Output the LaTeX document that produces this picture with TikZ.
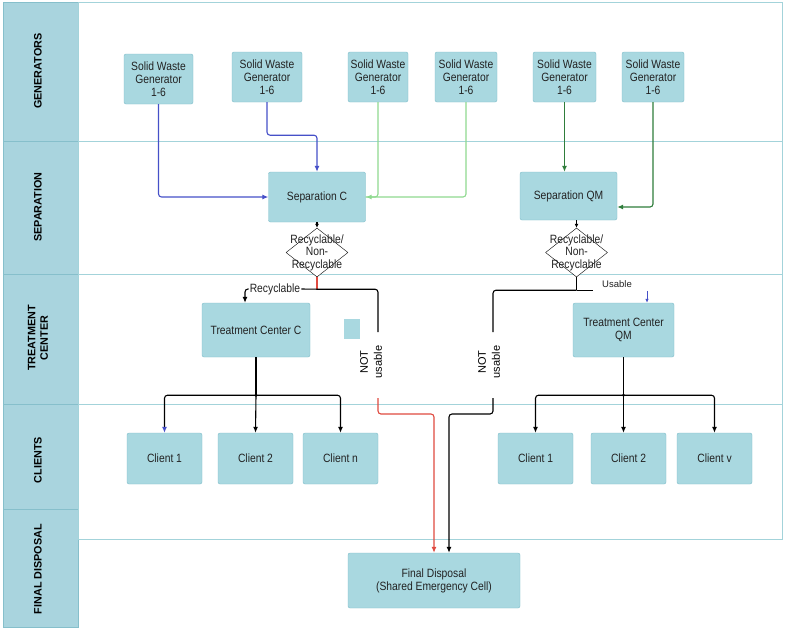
\documentclass[tikz,border=0pt]{standalone}
\usepackage{fontspec}
\setmainfont{Liberation Sans}
\newfontfamily\narrowfont{Liberation Sans}[FakeStretch=0.86]
\usetikzlibrary{arrows.meta,shapes.geometric,calc}

\definecolor{boxfill}{HTML}{A9D8E0}
\definecolor{boxline}{HTML}{7FBECA}
\definecolor{lanefill}{HTML}{A9D4DE}
\definecolor{laneline}{HTML}{A3D3DA}
\definecolor{lanedark}{HTML}{86BFCB}
\definecolor{textgray}{HTML}{222222}
\definecolor{genblue}{HTML}{4650C8}
\definecolor{genlight}{HTML}{90DA90}
\definecolor{gendark}{HTML}{2F7D3B}
\definecolor{redline}{HTML}{E04A40}

\tikzset{
	box/.style={draw=boxline, fill=boxfill, rounded corners=2pt, align=center,
		font=\narrowfont\fontsize{12}{13}\selectfont, text=textgray, inner sep=0.5pt},
	lane/.style={rotate=90, align=center, font=\bfseries\fontsize{10.8}{12.5}\selectfont},
	decision/.style={diamond, draw, fill=white, inner sep=0pt, minimum width=62, minimum height=49},
	link/.style={line width=1.1pt, rounded corners=3pt},
	tip/.style={-{Latex[length=6pt,width=5pt]}},
}

\begin{document}
\begin{tikzpicture}[x=1pt,y=-1pt]
	\useasboundingbox (0,0) rectangle (791,630);
	\fill[white] (0,0) rectangle (791,630);
	% lanes
	\draw[lanedark, fill=lanefill] (3,2) rectangle (78,627);
	\foreach \y in {141,274,404,509}
		\draw[lanedark] (3,\y) -- (78,\y);
	\draw[laneline] (78,2) rectangle (782,539);
	\foreach \y in {141,274,404}
		\draw[laneline] (78,\y) -- (782,\y);
	
	\node[lane] (lgen) at (38,71) {GENERATORS};
	\node[lane] (lsep) at (38,207) {SEPARATION};
	\node[lane] (ltrt) at (38,338) {TREATMENT\\CENTER};
	\node[lane] (lcli) at (38,460) {CLIENTS};
	\node[lane] (lfin) at (38,569) {FINAL DISPOSAL};
	
	% generators
	\node[box, minimum width=69, minimum height=50] (gen1) at (158.5,79) {Solid Waste\\Generator\\1-6};
	\node[box, minimum width=70, minimum height=50] (gen2) at (267,77) {Solid Waste\\Generator\\1-6};
	\node[box, minimum width=60, minimum height=50] (gen3) at (378,77) {Solid Waste\\Generator\\1-6};
	\node[box, minimum width=62, minimum height=50] (gen4) at (466,77) {Solid Waste\\Generator\\1-6};
	\node[box, minimum width=63, minimum height=50] (gen5) at (564.5,77) {Solid Waste\\Generator\\1-6};
	\node[box, minimum width=62, minimum height=50] (gen6) at (653,77) {Solid Waste\\Generator\\1-6};
	
	% separation
	\node[box, minimum width=97, minimum height=50] (sepc) at (317,197) {Separation C};
	\node[box, minimum width=97, minimum height=48] (sepq) at (568.5,196) {Separation QM};
	\node[decision] (decc) at (317,252.5) {};
	\node[decision] (decq) at (576.5,252.5) {};
	\node[align=center, font=\narrowfont\fontsize{12}{12.5}\selectfont, text=textgray] (tdc) at (decc) {Recyclable/\\Non-\\Recyclable};
	\node[align=center, font=\narrowfont\fontsize{12}{12.5}\selectfont, text=textgray] (tdq) at (decq) {Recyclable/\\Non-\\Recyclable};
	
	% treatment
	\node[box, minimum width=108, minimum height=54] (tc) at (256,330) {Treatment Center C};
	\node[box, minimum width=101, minimum height=54] (tq) at (623.5,330) {Treatment Center\\QM};
	\fill[boxfill] (344,319) rectangle (360,339);
	
	% clients
	\node[box, minimum width=75, minimum height=51] (c1) at (164.5,458.5) {Client 1};
	\node[box, minimum width=75, minimum height=51] (c2) at (255.5,458.5) {Client 2};
	\node[box, minimum width=75, minimum height=51] (cn) at (340.5,458.5) {Client n};
	\node[box, minimum width=75, minimum height=51] (q1) at (535.5,458.5) {Client 1};
	\node[box, minimum width=75, minimum height=51] (q2) at (628.5,458.5) {Client 2};
	\node[box, minimum width=75, minimum height=51] (qv) at (714.5,458.5) {Client v};
	
	% final disposal
	\node[box, minimum width=172, minimum height=55] (fd) at (434,580.5) {Final Disposal\\(Shared Emergency Cell)};
	
	% generators to separation
	\draw[link, tip, genblue] (gen1.south) |- (sepc.west);
	\draw[link, tip, genblue] (gen2.south) -- ++(0,33) -| (sepc.north);
	\draw[link, tip, genlight] (gen3.south) |- (sepc.east);
	\draw[link, genlight] (gen4.south) |- (sepc.east);
	\draw[link, tip, gendark] (gen5.south) -- (gen5.south |- sepq.north);
	\draw[link, tip, gendark] (gen6.south) |- ([yshift=-11pt]sepq.east);
	
	\draw[line width=1.1pt, -{Latex[length=4pt,width=4pt]}] (decc.north |- sepc.south) -- (decc.north);
	\draw[line width=1.1pt, -{Latex[length=4pt,width=4pt]}] (decq.north |- sepq.south) -- (decq.north);
	
	% separation C outputs
	\draw[line width=1.1pt, redline] (decc.south) -- ++(0,12) coordinate (jc);
	\node[font=\narrowfont\fontsize{12}{13}\selectfont, text=textgray, inner sep=1pt] (recy) at (275,289) {Recyclable};
	\draw[link] (jc) -- (recy.east);
	\draw[link, tip] (recy.west) -| ([xshift=-11pt]tc.north);
	\node[rotate=90, align=center, font=\fontsize{11}{14}\selectfont] (nuc) at (371,362) {NOT\\usable};
	\coordinate (nc1) at (378,332);
	\coordinate (nc2) at (378,398);
	\draw[link] (jc) -| (nc1);
	\draw[link, tip, redline] (nc2) -- ++(0,16) -| (fd.north);
	
	% separation QM outputs
	\draw[line width=1.1pt] (decq.south) -- ++(0,13) coordinate (jq);
	\node[rotate=90, align=center, font=\fontsize{11}{14}\selectfont] (nuq) at (489,362) {NOT\\usable};
	\coordinate (nq1) at (493,332);
	\coordinate (nq2) at (493,398);
	\draw[link] (jq) -| (nq1);
	\draw[link, tip] (nq2) -- ++(0,16) -| ([xshift=15pt]fd.north);
	\draw[line width=1.1pt] (jq) -- ++(16,0);
	\node[font=\fontsize{9.5}{11}\selectfont, text=textgray] (usab) at (617,284) {Usable};
	\draw[genblue, line width=0.8pt, -{Latex[length=4pt,width=3.5pt]}] ([xshift=23.5pt,yshift=12pt]tq.north) -- ([xshift=23.5pt]tq.north);
	
	% treatment to clients
	\draw[line width=1.1pt] (tc.south) -- ++(0,38) coordinate (bc);
	\fill (bc) circle (1.6);
	\draw[link, -{Latex[length=6pt,width=5pt,color=genblue]}] (bc) -| (c1.north);
	\draw[link, tip] (bc) -- (c2.north);
	\draw[link, tip] (bc) -| (cn.north);
	\draw[line width=1.1pt] (tq.south) -- ++(0,38) coordinate (bq);
	\fill (bq) circle (1.6);
	\draw[link, tip] (bq) -| (q1.north);
	\draw[link, tip] (bq) -- (bq |- q2.north);
	\draw[link, tip] (bq) -| (qv.north);
\end{tikzpicture}
\end{document}
